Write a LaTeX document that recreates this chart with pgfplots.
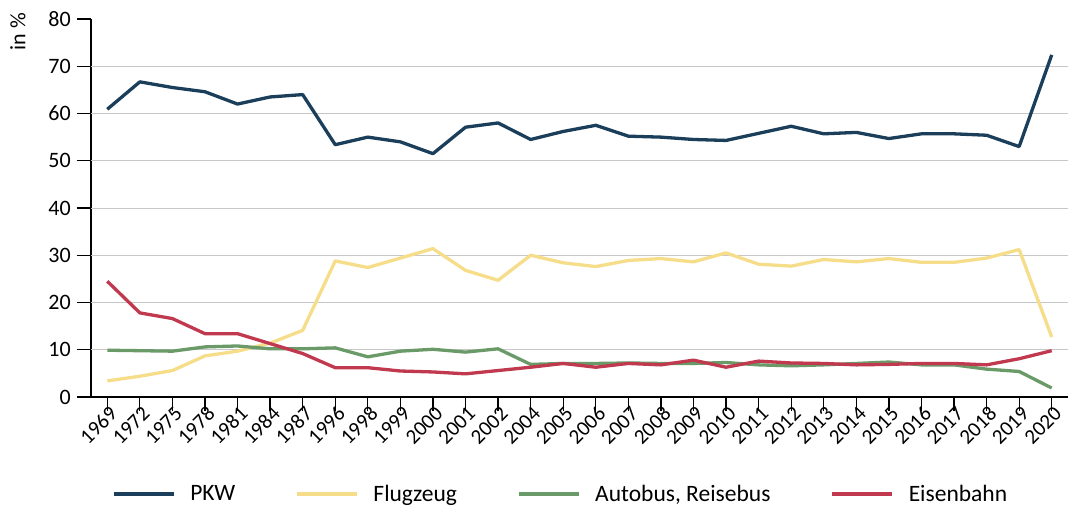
\documentclass[border=0pt]{standalone}
\usepackage{fontspec}
\setmainfont{Carlito}
\usepackage{pgfplots}
\usepackage{pgfplotstable}
\pgfplotsset{compat=1.18}
\definecolor{cPKW}{RGB}{27,63,90}
\definecolor{cFlug}{RGB}{246,221,138}
\definecolor{cBus}{RGB}{106,154,104}
\definecolor{cBahn}{RGB}{192,57,79}
\pgfplotstableread{
x PKW Flug Bus Bahn
0 60.9 3.4 9.9 24.5
1 66.7 4.4 9.8 17.8
2 65.5 5.6 9.7 16.6
3 64.6 8.7 10.6 13.4
4 62.0 9.7 10.8 13.4
5 63.5 11.4 10.2 11.3
6 64.0 14.1 10.2 9.2
7 53.4 28.8 10.4 6.2
8 55.0 27.4 8.5 6.2
9 54.0 29.4 9.7 5.5
10 51.5 31.4 10.1 5.3
11 57.1 26.8 9.5 4.9
12 58.0 24.7 10.2 5.6
13 54.5 30.0 6.9 6.3
14 56.2 28.4 7.1 7.1
15 57.5 27.6 7.1 6.3
16 55.2 28.9 7.2 7.1
17 55.0 29.3 7.1 6.8
18 54.5 28.6 7.1 7.8
19 54.3 30.5 7.3 6.3
20 55.8 28.1 6.8 7.6
21 57.3 27.7 6.6 7.2
22 55.7 29.1 6.8 7.1
23 56.0 28.6 7.1 6.8
24 54.7 29.3 7.4 6.9
25 55.7 28.5 6.8 7.1
26 55.7 28.5 6.8 7.1
27 55.4 29.4 5.9 6.8
28 53.0 31.2 5.4 8.1
29 72.4 12.7 1.9 9.8
}\datatable
\begin{document}
\begin{tikzpicture}
\useasboundingbox (-91pt,-111pt) rectangle (977pt,397pt);
\begin{axis}[
  scale only axis,
  width=977pt, height=378pt,
  at={(0pt,0pt)}, anchor=south west,
  xmin=-0.5, xmax=29.5,
  ymin=0, ymax=80,
  axis x line*=bottom, axis y line*=left,
  axis line style={black, line width=1.3pt},
  xtick=data,
  xticklabels={1969,1972,1975,1978,1981,1984,1987,1996,1998,1999,2000,2001,2002,2004,2005,2006,2007,2008,2009,2010,2011,2012,2013,2014,2015,2016,2017,2018,2019,2020},
  ytick={0,10,...,80},
  extra y ticks={10,20,...,70},
  extra y tick labels={},
  extra y tick style={grid=major, major tick length=0pt},
  grid style={color=black!22, line width=1pt},
  tick align=outside,
  major tick length=14pt,
  tick style={black, line width=1.3pt},
  /pgf/number format/assume math mode=true,
  yticklabel style={font=\fontsize{22}{26}\selectfont, inner sep=0pt, xshift=-6pt},
  xticklabel style={font=\fontsize{21}{24}\selectfont, rotate=45, anchor=east, inner sep=0pt, xshift=5pt, yshift=-4pt},
  legend columns=4,
  legend style={draw=none, fill=none, at={(axis description cs:0.0215,-0.2566)}, anchor=west,
    inner sep=0pt, outer sep=0pt,
    font=\fontsize{23.5}{28}\selectfont,
    nodes={inner sep=0pt},
    /tikz/every odd column/.append style={column sep=15pt},
    /tikz/every even column/.append style={column sep=60pt}},
  legend image code/.code={\draw[#1] (0pt,0pt) -- (60pt,0pt);},
  every axis plot/.append style={line width=3.3pt, line join=round},
]
\addplot[cPKW] table[x=x,y=PKW]{\datatable};
\addlegendentry{PKW}
\addplot[cFlug] table[x=x,y=Flug]{\datatable};
\addlegendentry{Flugzeug}
\addplot[cBus] table[x=x,y=Bus]{\datatable};
\addlegendentry{Autobus, Reisebus}
\addplot[cBahn] table[x=x,y=Bahn]{\datatable};
\addlegendentry{Eisenbahn}
\end{axis}
\node[rotate=90, anchor=north east, inner sep=0pt, font=\fontsize{22}{26}\selectfont] at (-81pt,384pt) {in \%};
\end{tikzpicture}
\end{document}
